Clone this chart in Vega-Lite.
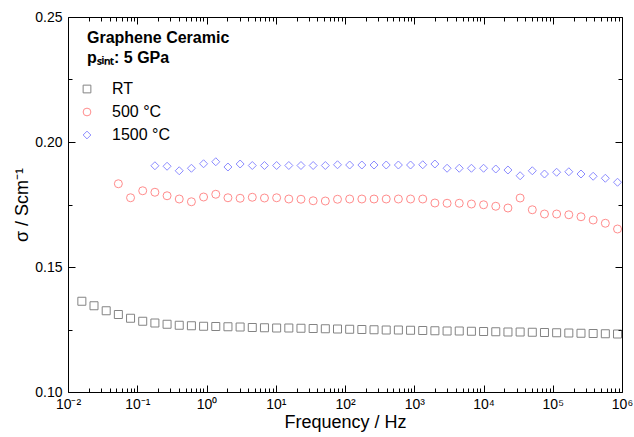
{
  "$schema": "https://vega.github.io/schema/vega-lite/v6.json",
  "autosize": "none",
  "width": 554,
  "height": 375,
  "padding": {"left": 68, "top": 17, "right": 12, "bottom": 45},
  "background": "white",
  "config": {
    "font": "Liberation Sans",
    "view": {"stroke": "black", "strokeWidth": 1},
    "axis": {"domain": false, "ticks": true, "tickColor": "black", "labelColor": "black", "titleColor": "black", "grid": false, "labelFontSize": 14, "titleFontSize": 18, "titleFontWeight": "normal"}
  },
  "data": {"values": [
    {"f": 0.01585, "s": 0.1363, "T": "RT"},
    {"f": 0.02375, "s": 0.1345, "T": "RT"},
    {"f": 0.0356, "s": 0.1325, "T": "RT"},
    {"f": 0.05338, "s": 0.1310, "T": "RT"},
    {"f": 0.08, "s": 0.1295, "T": "RT"},
    {"f": 0.1199, "s": 0.1283, "T": "RT"},
    {"f": 0.1798, "s": 0.1276, "T": "RT"},
    {"f": 0.2695, "s": 0.1271, "T": "RT"},
    {"f": 0.404, "s": 0.1267, "T": "RT"},
    {"f": 0.6056, "s": 0.1265, "T": "RT"},
    {"f": 0.9078, "s": 0.1263, "T": "RT"},
    {"f": 1.361, "s": 0.1262, "T": "RT"},
    {"f": 2.04, "s": 0.1261, "T": "RT"},
    {"f": 3.058, "s": 0.1260, "T": "RT"},
    {"f": 4.584, "s": 0.1258, "T": "RT"},
    {"f": 6.871, "s": 0.1257, "T": "RT"},
    {"f": 10.3, "s": 0.1256, "T": "RT"},
    {"f": 15.44, "s": 0.1256, "T": "RT"},
    {"f": 23.14, "s": 0.1255, "T": "RT"},
    {"f": 34.69, "s": 0.1254, "T": "RT"},
    {"f": 52, "s": 0.1253, "T": "RT"},
    {"f": 77.95, "s": 0.1252, "T": "RT"},
    {"f": 116.8, "s": 0.1251, "T": "RT"},
    {"f": 175.1, "s": 0.1250, "T": "RT"},
    {"f": 262.5, "s": 0.1249, "T": "RT"},
    {"f": 393.6, "s": 0.1248, "T": "RT"},
    {"f": 590, "s": 0.1248, "T": "RT"},
    {"f": 884.4, "s": 0.1247, "T": "RT"},
    {"f": 1326, "s": 0.1246, "T": "RT"},
    {"f": 1987, "s": 0.1245, "T": "RT"},
    {"f": 2979, "s": 0.1244, "T": "RT"},
    {"f": 4466, "s": 0.1244, "T": "RT"},
    {"f": 6694, "s": 0.1243, "T": "RT"},
    {"f": 10030, "s": 0.1242, "T": "RT"},
    {"f": 15040, "s": 0.1241, "T": "RT"},
    {"f": 22540, "s": 0.1240, "T": "RT"},
    {"f": 33800, "s": 0.1240, "T": "RT"},
    {"f": 50660, "s": 0.1239, "T": "RT"},
    {"f": 75940, "s": 0.1238, "T": "RT"},
    {"f": 113800, "s": 0.1237, "T": "RT"},
    {"f": 170600, "s": 0.1236, "T": "RT"},
    {"f": 255800, "s": 0.1235, "T": "RT"},
    {"f": 383400, "s": 0.1234, "T": "RT"},
    {"f": 574700, "s": 0.1233, "T": "RT"},
    {"f": 861500, "s": 0.1232, "T": "RT"},
    {"f": 0.05338, "s": 0.1833, "T": "500 °C"},
    {"f": 0.08, "s": 0.1777, "T": "500 °C"},
    {"f": 0.1199, "s": 0.1805, "T": "500 °C"},
    {"f": 0.1798, "s": 0.1799, "T": "500 °C"},
    {"f": 0.2695, "s": 0.1785, "T": "500 °C"},
    {"f": 0.404, "s": 0.1772, "T": "500 °C"},
    {"f": 0.6056, "s": 0.1761, "T": "500 °C"},
    {"f": 0.9078, "s": 0.1780, "T": "500 °C"},
    {"f": 1.361, "s": 0.1791, "T": "500 °C"},
    {"f": 2.04, "s": 0.1777, "T": "500 °C"},
    {"f": 3.058, "s": 0.1775, "T": "500 °C"},
    {"f": 4.584, "s": 0.1779, "T": "500 °C"},
    {"f": 6.871, "s": 0.1776, "T": "500 °C"},
    {"f": 10.3, "s": 0.1777, "T": "500 °C"},
    {"f": 15.44, "s": 0.1772, "T": "500 °C"},
    {"f": 23.14, "s": 0.1771, "T": "500 °C"},
    {"f": 34.69, "s": 0.1765, "T": "500 °C"},
    {"f": 52, "s": 0.1764, "T": "500 °C"},
    {"f": 77.95, "s": 0.1771, "T": "500 °C"},
    {"f": 116.8, "s": 0.1772, "T": "500 °C"},
    {"f": 175.1, "s": 0.1772, "T": "500 °C"},
    {"f": 262.5, "s": 0.1772, "T": "500 °C"},
    {"f": 393.6, "s": 0.1772, "T": "500 °C"},
    {"f": 590, "s": 0.1772, "T": "500 °C"},
    {"f": 884.4, "s": 0.1772, "T": "500 °C"},
    {"f": 1326, "s": 0.1772, "T": "500 °C"},
    {"f": 1987, "s": 0.1756, "T": "500 °C"},
    {"f": 2979, "s": 0.1755, "T": "500 °C"},
    {"f": 4466, "s": 0.1755, "T": "500 °C"},
    {"f": 6694, "s": 0.1752, "T": "500 °C"},
    {"f": 10030, "s": 0.1749, "T": "500 °C"},
    {"f": 15040, "s": 0.1743, "T": "500 °C"},
    {"f": 22540, "s": 0.1736, "T": "500 °C"},
    {"f": 33800, "s": 0.1776, "T": "500 °C"},
    {"f": 50660, "s": 0.1729, "T": "500 °C"},
    {"f": 75940, "s": 0.1712, "T": "500 °C"},
    {"f": 113800, "s": 0.1712, "T": "500 °C"},
    {"f": 170600, "s": 0.1709, "T": "500 °C"},
    {"f": 255800, "s": 0.1701, "T": "500 °C"},
    {"f": 383400, "s": 0.1688, "T": "500 °C"},
    {"f": 574700, "s": 0.1675, "T": "500 °C"},
    {"f": 861500, "s": 0.1652, "T": "500 °C"},
    {"f": 0.1798, "s": 0.1905, "T": "1500 °C"},
    {"f": 0.2695, "s": 0.1903, "T": "1500 °C"},
    {"f": 0.404, "s": 0.1885, "T": "1500 °C"},
    {"f": 0.6056, "s": 0.1895, "T": "1500 °C"},
    {"f": 0.9078, "s": 0.1913, "T": "1500 °C"},
    {"f": 1.361, "s": 0.1921, "T": "1500 °C"},
    {"f": 2.04, "s": 0.1900, "T": "1500 °C"},
    {"f": 3.058, "s": 0.1912, "T": "1500 °C"},
    {"f": 4.584, "s": 0.1906, "T": "1500 °C"},
    {"f": 6.871, "s": 0.1906, "T": "1500 °C"},
    {"f": 10.3, "s": 0.1906, "T": "1500 °C"},
    {"f": 15.44, "s": 0.1906, "T": "1500 °C"},
    {"f": 23.14, "s": 0.1906, "T": "1500 °C"},
    {"f": 34.69, "s": 0.1906, "T": "1500 °C"},
    {"f": 52, "s": 0.1906, "T": "1500 °C"},
    {"f": 77.95, "s": 0.1909, "T": "1500 °C"},
    {"f": 116.8, "s": 0.1908, "T": "1500 °C"},
    {"f": 175.1, "s": 0.1908, "T": "1500 °C"},
    {"f": 262.5, "s": 0.1908, "T": "1500 °C"},
    {"f": 393.6, "s": 0.1908, "T": "1500 °C"},
    {"f": 590, "s": 0.1908, "T": "1500 °C"},
    {"f": 884.4, "s": 0.1908, "T": "1500 °C"},
    {"f": 1326, "s": 0.1909, "T": "1500 °C"},
    {"f": 1987, "s": 0.1912, "T": "1500 °C"},
    {"f": 2979, "s": 0.1895, "T": "1500 °C"},
    {"f": 4466, "s": 0.1895, "T": "1500 °C"},
    {"f": 6694, "s": 0.1895, "T": "1500 °C"},
    {"f": 10030, "s": 0.1895, "T": "1500 °C"},
    {"f": 15040, "s": 0.1892, "T": "1500 °C"},
    {"f": 22540, "s": 0.1888, "T": "1500 °C"},
    {"f": 33800, "s": 0.1865, "T": "1500 °C"},
    {"f": 50660, "s": 0.1885, "T": "1500 °C"},
    {"f": 75940, "s": 0.1872, "T": "1500 °C"},
    {"f": 113800, "s": 0.1879, "T": "1500 °C"},
    {"f": 170600, "s": 0.1881, "T": "1500 °C"},
    {"f": 255800, "s": 0.1872, "T": "1500 °C"},
    {"f": 383400, "s": 0.1863, "T": "1500 °C"},
    {"f": 574700, "s": 0.1855, "T": "1500 °C"},
    {"f": 861500, "s": 0.1839, "T": "1500 °C"}
  ]},
  "resolve": {"axis": {"x": "independent", "y": "independent"}},
  "layer": [
    {
      "mark": {"type": "point", "filled": false, "strokeWidth": 1, "size": 64, "clip": true},
      "encoding": {
        "x": {
          "field": "f", "type": "quantitative",
          "scale": {"type": "log", "domain": [0.01, 1000000], "nice": false},
          "axis": {
            "orient": "bottom",
            "title": "Frequency / Hz",
            "titlePadding": 2,
            "ticks": true,
            "offset": -7,
            "tickSize": 7,
            "tickDash": {"condition": {"test": "abs(log(datum.value)/LN10 - round(log(datum.value)/LN10)) < 0.001", "value": [8, 1]}, "value": [0, 3, 4, 1]},
            "values": [0.01,0.02,0.03,0.04,0.05,0.06,0.07,0.08,0.09,0.1,0.2,0.3,0.4,0.5,0.6,0.7,0.8,0.9,1,2,3,4,5,6,7,8,9,10,20,30,40,50,60,70,80,90,100,200,300,400,500,600,700,800,900,1000,2000,3000,4000,5000,6000,7000,8000,9000,10000,20000,30000,40000,50000,60000,70000,80000,90000,100000,200000,300000,400000,500000,600000,700000,800000,900000,1000000],
            "labelExpr": "abs(log(datum.value)/LN10 - round(log(datum.value)/LN10)) < 0.001 ? '10' + ['⁻²','⁻¹','⁰','¹','²','³','⁴','⁵','⁶'][round(log(datum.value)/LN10) + 2] : ''",
            "labelFlush": false,
            "labelOverlap": false,
            "labelPadding": 5
          }
        },
        "y": {
          "field": "s", "type": "quantitative",
          "scale": {"domain": [0.10, 0.25], "nice": false, "zero": false},
          "axis": {
            "orient": "left",
            "title": "σ / Scm⁻¹",
            "titlePadding": 3,
            "ticks": true,
            "offset": -7,
            "tickSize": 7,
            "tickDash": {"condition": {"test": "abs(datum.value*20 - round(datum.value*20)) < 0.001", "value": [8, 1]}, "value": [0, 3, 4, 1]},
            "values": [0.10, 0.125, 0.15, 0.175, 0.20, 0.225, 0.25],
            "labelExpr": "abs(datum.value*20 - round(datum.value*20)) < 0.001 ? format(datum.value, '.2f') : ''",
            "labelFlush": false,
            "labelOverlap": false,
            "labelPadding": 6
          }
        },
        "shape": {
          "field": "T", "type": "nominal",
          "scale": {"domain": ["RT", "500 °C", "1500 °C"], "range": ["square", "circle", "diamond"]},
          "legend": {
            "orient": "none", "legendX": 19, "legendY": 13,
            "title": ["Graphene Ceramic", "pₛᵢₙₜ: 5 GPa"],
            "titleFontSize": 16, "titleFontWeight": "bold", "titleColor": "black", "titleLineHeight": 20,
            "titleFont": "Liberation Sans", "titlePadding": 15,
            "labelFontSize": 16, "labelColor": "black", "labelFont": "Liberation Sans",
            "labelOffset": 17, "symbolOffset": -8, "rowPadding": 7, "symbolSize": 60, "symbolStrokeWidth": 1, "padding": 0
          }
        },
        "color": {
          "field": "T", "type": "nominal",
          "scale": {"domain": ["RT", "500 °C", "1500 °C"], "range": ["#505050", "#ff5c5c", "#5c5cff"]}
        }
      }
    },
    {
      "mark": {"type": "point", "opacity": 0},
      "encoding": {
        "x": {
          "field": "f", "type": "quantitative",
          "axis": {
            "orient": "top", "title": null, "labels": false, "ticks": true,
            "offset": -7,
            "tickSize": 7,
            "tickDash": {"condition": {"test": "abs(log(datum.value)/LN10 - round(log(datum.value)/LN10)) < 0.001", "value": [8, 1]}, "value": [0, 3, 4, 1]},
            "values": [0.01,0.02,0.03,0.04,0.05,0.06,0.07,0.08,0.09,0.1,0.2,0.3,0.4,0.5,0.6,0.7,0.8,0.9,1,2,3,4,5,6,7,8,9,10,20,30,40,50,60,70,80,90,100,200,300,400,500,600,700,800,900,1000,2000,3000,4000,5000,6000,7000,8000,9000,10000,20000,30000,40000,50000,60000,70000,80000,90000,100000,200000,300000,400000,500000,600000,700000,800000,900000,1000000]
          }
        },
        "y": {
          "field": "s", "type": "quantitative",
          "axis": {
            "orient": "right", "title": null, "labels": false, "ticks": true,
            "offset": -7,
            "tickSize": 7,
            "tickDash": {"condition": {"test": "abs(datum.value*20 - round(datum.value*20)) < 0.001", "value": [8, 1]}, "value": [0, 3, 4, 1]},
            "values": [0.10, 0.125, 0.15, 0.175, 0.20, 0.225, 0.25]
          }
        }
      }
    }
  ]
}
